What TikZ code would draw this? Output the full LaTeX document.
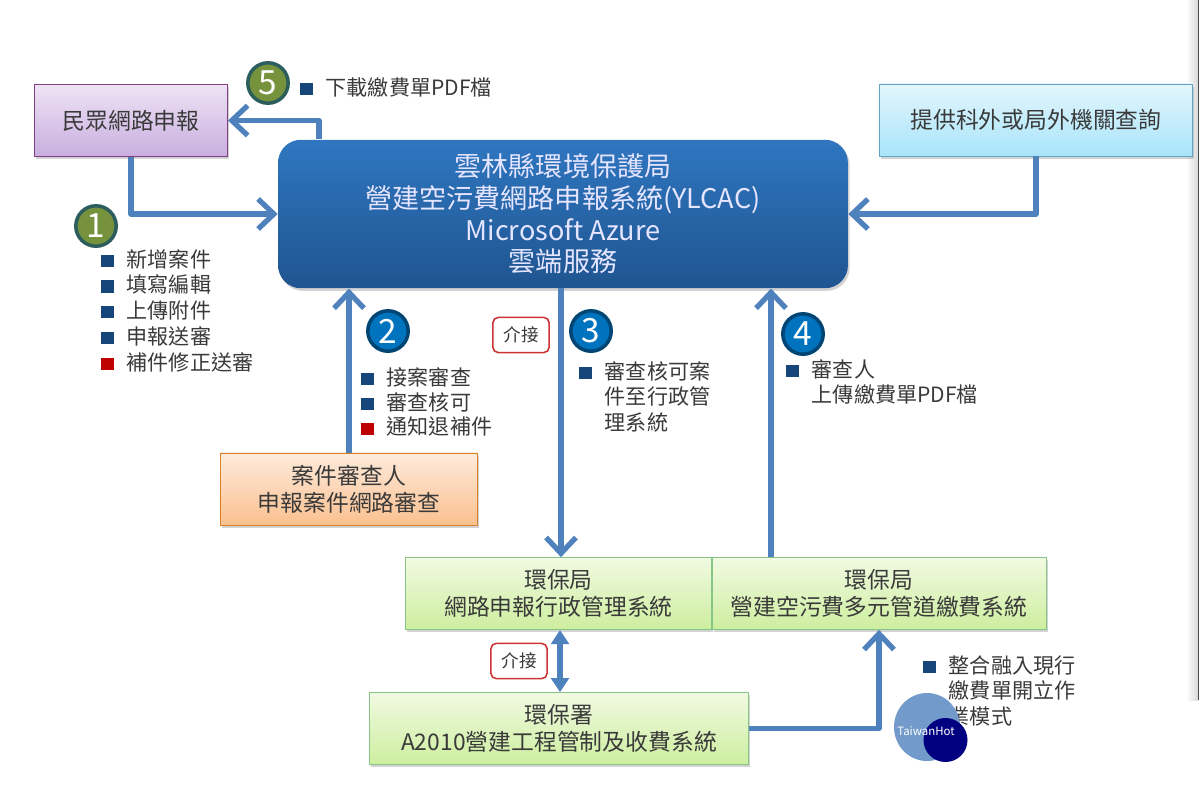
\documentclass[tikz,border=0pt]{standalone}
\usepackage{fontspec}
\setmainfont{Noto Sans CJK TC}
\usetikzlibrary{arrows.meta,shadows}
\definecolor{flowblue}{HTML}{4F81BD}
\definecolor{navy}{HTML}{17467A}
\definecolor{inkgray}{HTML}{3A3A3A}
\definecolor{purpletop}{HTML}{EEE3F5}
\definecolor{purplebot}{HTML}{C9AEDF}
\definecolor{skytop}{HTML}{E3F6FD}
\definecolor{skybot}{HTML}{A8E4FA}
\definecolor{orangetop}{HTML}{FDEBDC}
\definecolor{orangebot}{HTML}{FBC08F}
\definecolor{greentop}{HTML}{F1FAE2}
\definecolor{greenbot}{HTML}{CDEE9F}
\definecolor{azuretop}{HTML}{2F76C0}
\definecolor{azurebot}{HTML}{1F5590}
\definecolor{badgegreen}{HTML}{76923C}
\definecolor{badgeteal}{HTML}{2D5E5E}
\newcommand{\fs}[2]{\fontsize{#1}{#2}\selectfont}
\newcommand{\bl}{\textcolor{navy}{\rule{7pt}{7pt}}\hspace{7.5pt}}
\newcommand{\br}{\textcolor{red!75!black}{\rule{7pt}{7pt}}\hspace{7.5pt}}
\tikzset{
	flow/.style={draw=flowblue, line width=3pt, line join=round, -{Straight Barb[length=9pt,width=17pt,line width=3pt]}},
	box/.style={draw, inner sep=0pt, align=center, text=inkgray, minimum height=41pt, drop shadow={shadow xshift=1pt,shadow yshift=-1.5pt,opacity=.35}, font=\fs{13}{15.5}},
	greenbox/.style={box, draw=green!35!gray!70, top color=greentop, bottom color=greenbot},
	badge/.style={circle, minimum size=23pt, inner sep=0pt, text=white, font=\fs{19}{19}, line width=2pt},
	gbadge/.style={badge, fill=badgegreen, draw=badgeteal},
	bbadge/.style={badge, fill=blue!40!cyan!75!black, draw=blue!40!cyan!45!black},
	item/.style={anchor=west, inner sep=0pt, text=inkgray, font=\fs{12}{14.5}, align=left},
	tag/.style={draw=red!60!gray, fill=white, rounded corners=3pt, line width=.9pt, minimum width=32pt, minimum height=20pt, inner sep=0pt, font=\fs{10}{10}, text=inkgray}
}
\begin{document}
\begin{tikzpicture}[x=0.02cm,y=-0.02cm]
	\useasboundingbox (0,0) rectangle (1200,785);
	\fill[left color=white, right color=gray!30] (1186,0) rectangle (1198,700);
	\fill[black!70] (1198,0) rectangle (1199,700);
	
	\node[box, draw=violet!50!gray, top color=purpletop, bottom color=purplebot, minimum width=194*0.567pt] (public) at (131,120.5) {民眾網路申報};
	\node[box, draw=cyan!50!gray, top color=skytop, bottom color=skybot, minimum width=314*0.567pt] (query) at (1036,120) {提供科外或局外機關查詢};
	\node[box, draw=none, rounded corners=13pt, top color=azuretop, bottom color=azurebot, text=white!90!blue, minimum width=572*0.567pt, minimum height=149*0.567pt, font=\fs{15.4}{18}] (azure) at (563,214) {雲林縣環境保護局\\營建空污費網路申報系統(YLCAC)\\Microsoft Azure\\雲端服務};
	\node[box, draw=orange!70!gray, top color=orangetop, bottom color=orangebot, minimum width=258*0.567pt] (case) at (349,489) {案件審查人\\申報案件網路審查};
	\node[greenbox, minimum width=307*0.567pt] (admin) at (558.5,593.5) {環保局\\網路申報行政管理系統};
	\node[greenbox, minimum width=335*0.567pt] (pay) at (879,593.5) {環保局\\營建空污費多元管道繳費系統};
	\node[greenbox, minimum width=380*0.567pt] (epa) at (559,728.5) {環保署\\A2010營建工程管制及收費系統};
	
	\coordinate (out5) at (319,139);
	\coordinate (in3) at (561,288);
	\coordinate (in4) at (771,557);
	\coordinate (in6) at (560,630);
	
	\draw[flow] (public.south) |- (azure.west);
	\draw[flow] (query.south) |- (azure.east);
	\draw[flow] (out5) |- (public.east);
	\draw[flow] (case.north) -- (case.north |- azure.south);
	\draw[flow] (in3) -- (in3 |- admin.north);
	\draw[flow] (in4) -- (in4 |- azure.south);
	\draw[flow,{Triangle[length=8pt,width=10pt]}-{Triangle[length=8pt,width=10pt]}] (in6) -- (in6 |- epa.north);
	\draw[flow] (epa.east) -| (pay.south);
	
	\node[gbadge] (one) at (96,226) {1};
	\node[bbadge] (two) at (388,331) {2};
	\node[bbadge] (three) at (591,331) {3};
	\node[bbadge] (four) at (803,334) {4};
	\node[gbadge] (five) at (268,83) {5};
	
	\node[tag] (tagtop) at (521,335) {介接};
	\node[tag] (tagbot) at (519,661) {介接};
	
	\foreach \txt [count=\i] in {新增案件,填寫編輯,上傳附件,申報送審}
		\node[item] (one\i) at (101,259+25.7*\i-25.7) {\bl\txt};
	\node[item] (one5) at (101,362) {\br 補件修正送審};
	
	\foreach \txt [count=\i] in {接案審查,審查核可}
		\node[item] (two\i) at (361,377+25*\i-25) {\bl\txt};
	\node[item] (two3) at (361,427) {\br 通知退補件};
	
	\node[item, anchor=north west] (three1) at (579,361) {\bl 審查核可案\\\hphantom{\bl}件至行政管\\\hphantom{\bl}理系統};
	\node[item, anchor=north west] (four1) at (786,359) {\bl 審查人\\\hphantom{\bl}上傳繳費單PDF檔};
	\node[item] (five1) at (300,87) {\bl 下載繳費單PDF檔};
	\node[item, anchor=north west] (epa1) at (923,655) {\bl 整合融入現行\\\hphantom{\bl}繳費單開立作\\\hphantom{\bl}業模式};
	
	% watermark
	\fill[flowblue!80!white] (927,727) ellipse (33 and 34);
	\fill[blue!50!black] (945.5,740) circle (22);
	\node[text=white, font=\fs{6.5}{7}\itshape, inner sep=0pt] (mark) at (926,731) {TaiwanHot};
\end{tikzpicture}
\end{document}
